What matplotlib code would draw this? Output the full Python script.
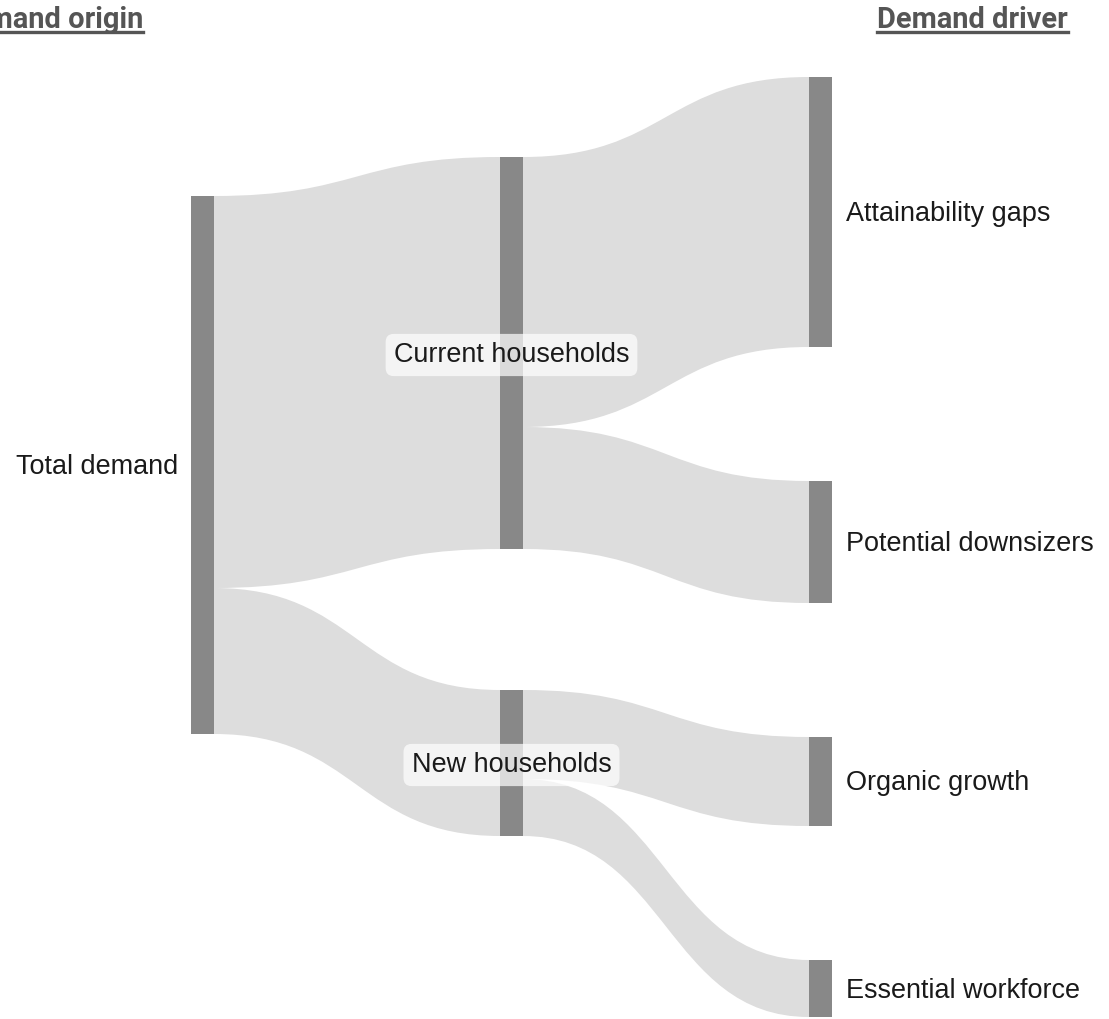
import matplotlib
matplotlib.use("Agg")
import matplotlib.pyplot as plt
from matplotlib.path import Path
from matplotlib.patches import PathPatch, Rectangle
from matplotlib.lines import Line2D

# data
nodes = ["Total demand", "Current households", "New households",
         "Attainability gaps", "Potential downsizers", "Organic growth", "Essential workforce"]
node_col = [0, 1, 1, 2, 2, 2, 2]
links_src = [1, 1, 2, 2]
links_tgt = [3, 4, 5, 6]
links_val = [270, 122, 89, 57]
# first column flows derived from the second
links_src = [0, 0] + links_src
links_tgt = [1, 2] + links_tgt
links_val = [sum(links_val[:2]), sum(links_val[2:])] + links_val

# layout (pixels)
W, H = 1109, 1019
col_x = [191, 500, 809]
node_w = 23
col_top = [196, 157, 77]
col_pad = [0, 141, 134]
node_color = "#888888"
link_color = "#dddddd"

# node sizes
size = []
for i in range(len(nodes)):
    inflow = sum(v for s, t, v in zip(links_src, links_tgt, links_val) if t == i)
    outflow = sum(v for s, t, v in zip(links_src, links_tgt, links_val) if s == i)
    size.append(max(inflow, outflow))

top = [0] * len(nodes)
for c in range(3):
    y = col_top[c]
    for i in range(len(nodes)):
        if node_col[i] == c:
            top[i] = y
            y += size[i] + col_pad[c]

fig = plt.figure(figsize=(W / 100, H / 100), dpi=100)
ax = fig.add_axes([0, 0, 1, 1])
ax.set_xlim(0, W)
ax.set_ylim(H, 0)
ax.axis("off")

out_off = list(top)
in_off = list(top)
for s, t, v in zip(links_src, links_tgt, links_val):
    x0 = col_x[node_col[s]] + node_w
    x1 = col_x[node_col[t]]
    xm = (x0 + x1) / 2
    ys0, yt0 = out_off[s], in_off[t]
    ys1, yt1 = ys0 + v, yt0 + v
    out_off[s] += v
    in_off[t] += v
    verts = [(x0, ys0), (xm, ys0), (xm, yt0), (x1, yt0),
             (x1, yt1), (xm, yt1), (xm, ys1), (x0, ys1), (x0, ys0)]
    codes = [Path.MOVETO, Path.CURVE4, Path.CURVE4, Path.CURVE4,
             Path.LINETO, Path.CURVE4, Path.CURVE4, Path.CURVE4, Path.CLOSEPOLY]
    ax.add_patch(PathPatch(Path(verts, codes), facecolor=link_color, edgecolor="none", zorder=1))

fs = 27 * 72 / 100
for i, name in enumerate(nodes):
    c = node_col[i]
    ax.add_patch(Rectangle((col_x[c], top[i]), node_w, size[i], facecolor=node_color,
                           edgecolor="none", zorder=2))
    yc = top[i] + size[i] / 2 + 2
    if c == 0:
        ax.text(col_x[c] - 13, yc, name, ha="right", va="center", fontsize=fs,
                family="Liberation Sans", color="#1a1a1a", zorder=3)
    elif c == 2:
        ax.text(col_x[c] + node_w + 14, yc, name, ha="left", va="center", fontsize=fs,
                family="Liberation Sans", color="#1a1a1a", zorder=3)
    else:
        ax.text(col_x[c] + node_w / 2, yc, name, ha="center", va="center", fontsize=fs,
                family="Liberation Sans", color="#1a1a1a", zorder=3,
                bbox=dict(boxstyle="round,pad=0.3,rounding_size=0.3", facecolor="white",
                          alpha=0.7, edgecolor="none"))

# column titles
tfs = 29 * 72 / 100
titles = []
titles.append(ax.text(143, 20, "Demand origin", ha="right", va="center", fontsize=tfs,
                      family="Roboto", weight="bold", color="#555555"))
titles.append(ax.text(1068, 20, "Demand driver", ha="right", va="center", fontsize=tfs,
                      family="Roboto", weight="bold", color="#555555"))

fig.canvas.draw()
r = fig.canvas.get_renderer()
for t in titles:
    bb = t.get_window_extent(r)
    y_under = H - bb.y0 - 2
    ax.add_line(Line2D([bb.x0, bb.x1], [y_under, y_under], color="#555555", lw=2.4))

fig.savefig("out.png", dpi=100)
